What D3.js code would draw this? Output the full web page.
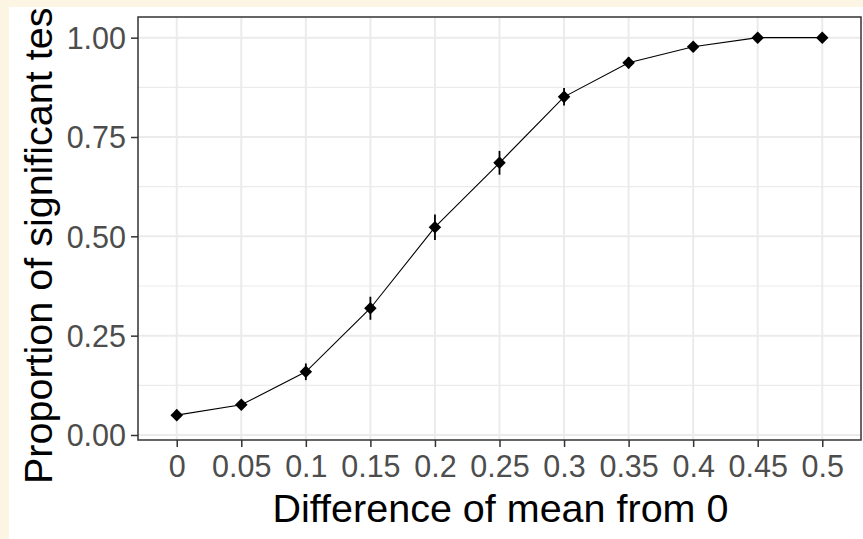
<!DOCTYPE html>
<html>
<head>
<meta charset="utf-8">
<script src="https://cdn.jsdelivr.net/npm/d3@7"></script>
<style>
  body { margin: 0; padding: 0; }
  svg { display: block; font-family: Arial, "Liberation Sans", sans-serif; }
</style>
</head>
<body>
<svg id="chart" width="863" height="539"></svg>
<script>
const svg = d3.select('#chart')
const width = 863
const height = 539

// data
const diffs = ['0', '0.05', '0.1', '0.15', '0.2', '0.25', '0.3', '0.35', '0.4', '0.45', '0.5']
const proportion = [0.050, 0.076, 0.159, 0.319, 0.523, 0.685, 0.851, 0.937, 0.977, 1.0, 1.0]
const errHalf = [0.008, 0.010, 0.021, 0.029, 0.032, 0.030, 0.022, 0.014, 0.009, 0.002, 0.002]
const yTicks = [0, 0.25, 0.5, 0.75, 1]
const yMinor = [0.125, 0.375, 0.625, 0.875]

const panel = { left: 138, right: 861, top: 17, bottom: 440 }
const gridColor = '#EBEBEB'
const tickTextColor = '#4D4D4D'

// page background and white plot area
svg.append('rect').attr('width', width).attr('height', height).attr('fill', '#FDF5E4')
svg.append('rect').attr('x', 9).attr('y', 7).attr('width', width - 9).attr('height', height - 7).attr('fill', '#FFFFFF')

svg.append('clipPath').attr('id', 'plotArea')
  .append('rect').attr('x', 9).attr('y', 7).attr('width', width - 9).attr('height', height - 7)

const xScale = d3.scalePoint()
  .domain(diffs)
  .range([panel.left, panel.right])
  .padding(0.6)

const yScale = d3.scaleLinear()
  .domain([-0.0126, 1.052])
  .range([panel.bottom, panel.top])

// grid
const grid = svg.append('g')
grid.selectAll('line.minor')
  .data(yMinor)
  .enter()
  .append('line')
    .attr('class', 'minor')
    .attr('x1', panel.left).attr('x2', panel.right)
    .attr('y1', d => yScale(d)).attr('y2', d => yScale(d))
    .attr('stroke', gridColor).attr('stroke-width', 1.2)

grid.selectAll('line.hmajor')
  .data(yTicks)
  .enter()
  .append('line')
    .attr('class', 'hmajor')
    .attr('x1', panel.left).attr('x2', panel.right)
    .attr('y1', d => yScale(d)).attr('y2', d => yScale(d))
    .attr('stroke', gridColor).attr('stroke-width', 2)

grid.selectAll('line.vmajor')
  .data(diffs)
  .enter()
  .append('line')
    .attr('class', 'vmajor')
    .attr('x1', d => xScale(d)).attr('x2', d => xScale(d))
    .attr('y1', panel.top).attr('y2', panel.bottom)
    .attr('stroke', gridColor).attr('stroke-width', 2)

const data = diffs.map((d, i) => ({ diff: d, p: proportion[i], e: errHalf[i] }))

// connecting line
const line = d3.line()
  .x(d => xScale(d.diff))
  .y(d => yScale(d.p))

svg.append('path')
  .datum(data)
  .attr('fill', 'none')
  .attr('stroke', '#000')
  .attr('stroke-width', 1.1)
  .attr('d', line)

// error bars
svg.selectAll('line.err')
  .data(data)
  .enter()
  .append('line')
    .attr('class', 'err')
    .attr('x1', d => xScale(d.diff)).attr('x2', d => xScale(d.diff))
    .attr('y1', d => yScale(d.p - d.e)).attr('y2', d => yScale(d.p + d.e))
    .attr('stroke', '#000')
    .attr('stroke-width', 1.8)

// diamond points
const diamond = d3.symbol().type(d3.symbolDiamond2).size(100)
svg.selectAll('path.pt')
  .data(data)
  .enter()
  .append('path')
    .attr('class', 'pt')
    .attr('transform', d => `translate(${xScale(d.diff)}, ${yScale(d.p)})`)
    .attr('d', diamond)
    .attr('fill', '#000')

// axes
const xAxis = d3.axisBottom(xScale).tickSize(7).tickPadding(8)
const yAxis = d3.axisLeft(yScale).tickValues(yTicks).tickFormat(d3.format('.2f')).tickSize(7).tickPadding(5)

const gx = svg.append('g')
  .attr('transform', `translate(0, ${panel.bottom})`)
  .call(xAxis)
const gy = svg.append('g')
  .attr('transform', `translate(${panel.left}, 0)`)
  .call(yAxis)

svg.selectAll('path.domain').remove()
svg.selectAll('.tick line').attr('stroke', '#333333').attr('stroke-width', 1.5)
svg.selectAll('.tick text')
  .attr('fill', tickTextColor)
  .style('font-size', '30.5px')
  .style('font-family', 'Arial, "Liberation Sans", sans-serif')
gx.selectAll('.tick text').attr('dy', '0.72em')
gy.selectAll('.tick text').attr('dy', '0.36em')

// panel border
svg.append('rect')
  .attr('x', panel.left).attr('y', panel.top)
  .attr('width', panel.right - panel.left).attr('height', panel.bottom - panel.top)
  .attr('fill', 'none')
  .attr('stroke', '#333333')
  .attr('stroke-width', 1.5)

// titles
svg.append('text')
  .attr('x', (panel.left + panel.right) / 2 + 1)
  .attr('y', 522)
  .attr('text-anchor', 'middle')
  .style('font-size', '39.5px')
  .attr('fill', '#000')
  .text('Difference of mean from 0')

svg.append('g')
  .attr('clip-path', 'url(#plotArea)')
  .append('text')
    .attr('transform', 'translate(52, 484) rotate(-90)')
    .attr('text-anchor', 'start')
    .style('font-size', '39.5px')
    .attr('fill', '#000')
    .text('Proportion of significant tests')
</script>
</body>
</html>
